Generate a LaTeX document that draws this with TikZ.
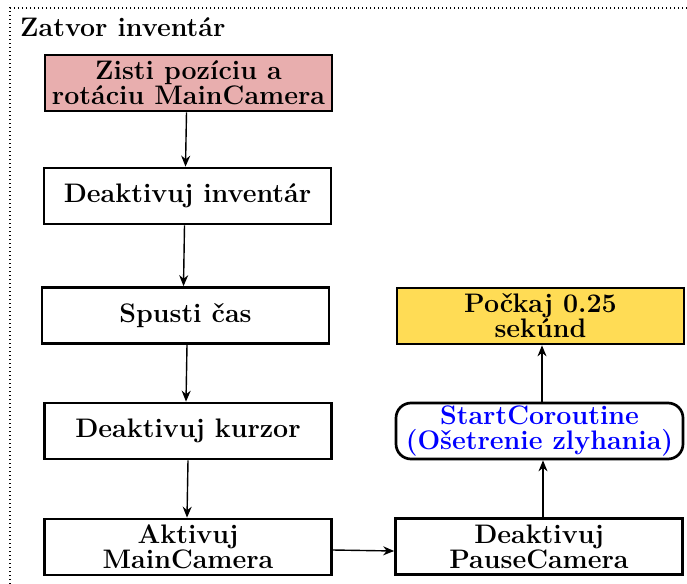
\documentclass[tikz,border=0pt]{standalone}
\usetikzlibrary{arrows.meta}
\definecolor{pinkfill}{RGB}{232,174,174}
\definecolor{yellowfill}{RGB}{255,220,85}
\definecolor{bluetext}{RGB}{0,0,255}
\begin{document}
\begin{tikzpicture}[x=1pt,y=-1pt,
  box/.style={draw=black,line width=2.7pt,minimum width=287pt,minimum height=56pt,
    align=center,inner sep=0pt,font=\fontsize{26.8}{25}\selectfont\bfseries},
  conn/.style={line width=1.4pt,-{Stealth[length=11pt,width=9pt]}},
  frame/.style={line width=1.4pt,dash pattern=on 1.4pt off 2.6pt}]
\useasboundingbox (0,0) rectangle (687,583);
\draw[frame] (10,600) -- (10,8) -- (700,8);
\node[anchor=base west,inner sep=0pt,font=\fontsize{26.8}{25}\selectfont\bfseries] (title) at (20,37) {Zatvor inventár};
\node[box,fill=pinkfill] (zisti) at (188.5,83) {Zisti pozíciu a\\rotáciu MainCamera};
\node[box] (inv) at (187.5,196) {Deaktivuj inventár};
\node[box] (cas) at (185.5,315.5) {Spusti čas};
\node[box] (kurz) at (188,431) {Deaktivuj kurzor};
\node[box] (main) at (188,547) {Aktivuj\\MainCamera};
\node[box] (pause) at (539,546.5) {Deaktivuj\\PauseCamera};
\node[box,rounded corners=15pt,text=bluetext] (start) at (539.5,431) {StartCoroutine\\(Ošetrenie zlyhania)};
\node[box,fill=yellowfill] (wait) at (540.5,316) {Počkaj 0.25\\sekúnd};
\draw[conn] ([xshift=-2pt]zisti.south) -- ([xshift=-2pt]inv.north);
\draw[conn] ([xshift=-3pt]inv.south) -- ([xshift=-2pt]cas.north);
\draw[conn] ([xshift=1.5pt]cas.south) -- ([xshift=-2pt]kurz.north);
\draw[conn] (kurz.south) -- ([xshift=-1pt]main.north);
\draw[conn] ([yshift=-3pt]main.east) -- ([yshift=-4.5pt]pause.west);
\draw[conn] ([xshift=4pt]pause.north) -- ([xshift=3.5pt]start.south);
\draw[conn] ([xshift=2.5pt]start.north) -- ([xshift=1.5pt]wait.south);
\end{tikzpicture}
\end{document}
